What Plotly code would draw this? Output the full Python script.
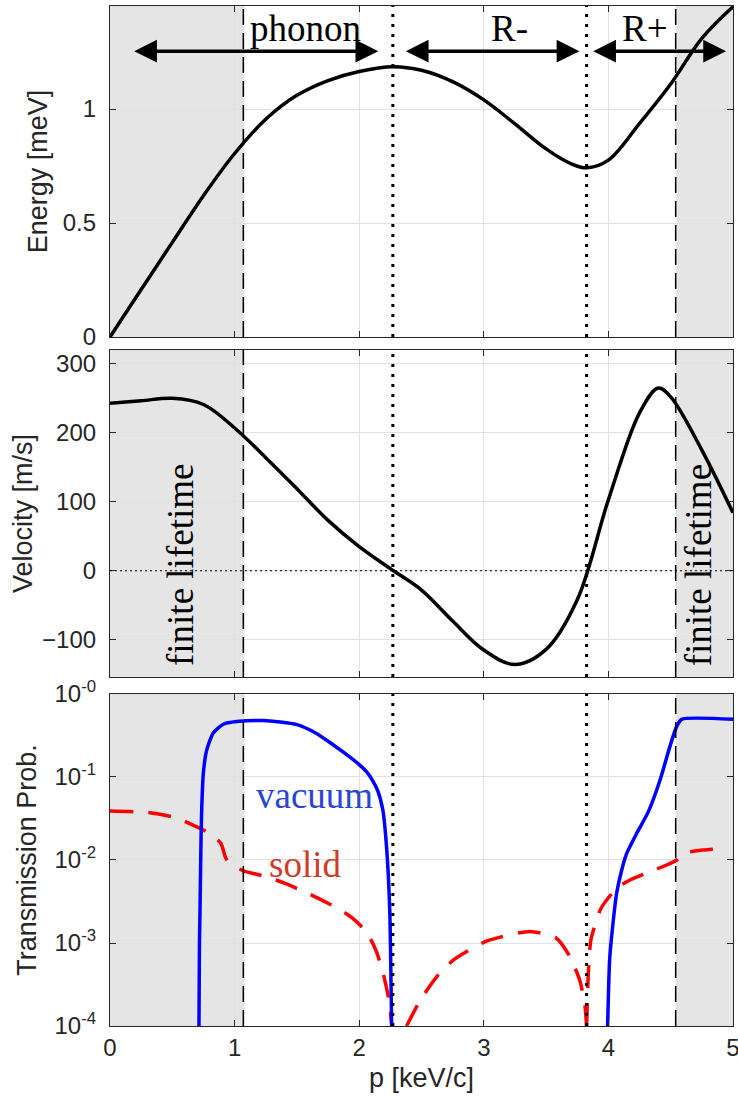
import plotly.graph_objects as go

# ---------------- data ----------------
energy_p = [0, 0.25, 0.5, 0.75, 1.0, 1.25, 1.5, 1.75, 2.0, 2.27, 2.5, 2.75, 3.0, 3.25,
            3.5, 3.7, 3.825, 4.0, 4.25, 4.5, 4.75, 5.0]
energy_E = [0, 0.208, 0.415, 0.62, 0.805, 0.955, 1.06, 1.125, 1.165, 1.186, 1.17, 1.12,
            1.04, 0.935, 0.825, 0.76, 0.742, 0.776, 0.937, 1.11, 1.31, 1.449]

vel_p = [0, 0.25, 0.5, 0.75, 1.0, 1.25, 1.5, 1.75, 2.0, 2.25, 2.5, 2.75, 3.0, 3.25,
         3.5, 3.75, 4.0, 4.25, 4.4, 4.5, 4.75, 5.0]
vel_v = [243, 246.5, 250, 241, 207, 164, 119, 73, 35, 3, -28, -73, -115, -136,
         -114, -42, 103, 229, 265, 252, 175, 84]

vac_p1 = [0.714, 0.718, 0.722, 0.728, 0.735, 0.749, 0.776, 0.829, 0.91, 1.017, 1.23,
          1.5, 1.65, 1.79, 1.9, 2.0, 2.06, 2.11, 2.15, 2.19, 2.22, 2.245, 2.26]
vac_T1 = [1e-4, 1e-3, 0.00229, 0.01, 0.0363, 0.111, 0.211, 0.339, 0.432, 0.465, 0.479,
          0.427, 0.339, 0.245, 0.186, 0.141, 0.115, 0.0891, 0.0676, 0.0398, 0.0141,
          0.00251, 1e-4]
vac_p2 = [3.994, 4.01, 4.04, 4.066, 4.107, 4.147, 4.227, 4.32, 4.414, 4.494, 4.548,
          4.588, 5.0]
vac_T2 = [1e-4, 6.3e-4, 0.00191, 0.00398, 0.00759, 0.012, 0.0209, 0.038, 0.0912,
          0.234, 0.407, 0.495, 0.495]

sol_p1 = [0, 0.32, 0.5, 0.64, 0.8, 0.89, 0.93, 0.97, 1.07, 1.25, 1.4, 1.6, 1.8, 1.9,
          1.97, 2.04, 2.09, 2.14, 2.19, 2.24, 2.262]
sol_T1 = [0.0389, 0.0372, 0.0331, 0.0275, 0.0209, 0.0158, 0.0105, 0.0089, 0.00741,
          0.00631, 0.00525, 0.00389, 0.00275, 0.00224, 0.00186, 0.00145, 0.00112,
          0.000776, 0.000447, 0.0002, 1e-4]
sol_p2 = [2.38, 2.49, 2.62, 2.76, 3.02, 3.37, 3.58, 3.69, 3.77, 3.81, 3.825]
sol_T2 = [1e-4, 2.04e-4, 3.89e-4, 6.3e-4, 0.00105, 0.00138, 0.00115, 6.9e-4, 3.55e-4,
          1.86e-4, 1e-4]
sol_p3 = [3.825, 3.84, 3.86, 3.94, 4.066, 4.173, 4.334, 4.468, 4.548, 4.6, 4.76, 4.94]
sol_T3 = [1e-4, 4.68e-4, 0.0011, 0.0026, 0.00457, 0.00575, 0.00724, 0.0087, 0.01,
          0.012, 0.0132, 0.0138]

x_ticks = [0, 1, 2, 3, 4, 5]
e_ticks = [0, 0.5, 1]
v_ticks = [-100, 0, 100, 200, 300]
t_ticks = [1e-4, 1e-3, 1e-2, 1e-1, 1]
t_ticktext = ["10<sup>-4</sup>", "10<sup>-3</sup>", "10<sup>-2</sup>",
              "10<sup>-1</sup>", "10<sup>-0</sup>"]

# region boundaries (keV/c)
lifetime_lo = 1.07
lifetime_hi = 4.54
maxon_p = 2.27
roton_p = 3.825

# ---------------- styling ----------------
SANS = "Liberation Sans, Arial, Helvetica, sans-serif"
SERIF = "Liberation Serif, Times New Roman, serif"
AX = "#262626"
GRID = "#e1e1e1"
SHADE = "#e5e5e5"

fig = go.Figure()

fig.add_trace(go.Scatter(x=energy_p, y=energy_E, mode="lines", xaxis="x", yaxis="y",
                         line=dict(color="black", width=3.5, shape="spline", smoothing=1.0),
                         showlegend=False))
fig.add_trace(go.Scatter(x=vel_p, y=vel_v, mode="lines", xaxis="x2", yaxis="y2",
                         line=dict(color="black", width=3.5, shape="spline", smoothing=1.0),
                         showlegend=False))
for px_, py_ in [(sol_p1, sol_T1), (sol_p2, sol_T2), (sol_p3, sol_T3)]:
    fig.add_trace(go.Scatter(x=px_, y=py_, mode="lines", xaxis="x3", yaxis="y3",
                             line=dict(color="#ff0000", width=3.5, dash="23px,15px",
                                       shape="spline", smoothing=0.6),
                             showlegend=False))
for px_, py_ in [(vac_p1, vac_T1), (vac_p2, vac_T2)]:
    fig.add_trace(go.Scatter(x=px_, y=py_, mode="lines", xaxis="x3", yaxis="y3",
                             line=dict(color="#0000ff", width=3.5, shape="spline", smoothing=0.6),
                             showlegend=False))

shapes = []
for xr, yr in [("x", "y domain"), ("x2", "y2 domain"), ("x3", "y3 domain")]:
    shapes.append(dict(type="rect", xref=xr, yref=yr, x0=0, x1=lifetime_lo + 0.01, y0=0, y1=1,
                       fillcolor=SHADE, line=dict(width=0), layer="below"))
    shapes.append(dict(type="rect", xref=xr, yref=yr, x0=lifetime_hi, x1=5, y0=0, y1=1,
                       fillcolor=SHADE, line=dict(width=0), layer="below"))
    for xv in (lifetime_lo, lifetime_hi):
        shapes.append(dict(type="line", xref=xr, yref=yr, x0=xv, x1=xv, y0=0, y1=1,
                           line=dict(color="black", width=1.5, dash="16px,8px"), layer="above"))
    for xv in (maxon_p, roton_p):
        shapes.append(dict(type="line", xref=xr, yref=yr, x0=xv, x1=xv, y0=0, y1=1,
                           line=dict(color="black", width=3, dash="3px,7px"), layer="above"))
shapes.append(dict(type="line", xref="x2 domain", yref="y2", x0=0, x1=1, y0=0, y1=0,
                   line=dict(color="black", width=1, dash="2px,3px"), layer="above"))

annotations = []
arrow_y = 1.254
for a, b in [(0.182, 2.153), (2.362, 3.767), (3.866, 4.944)]:
    annotations.append(dict(x=b, y=arrow_y, ax=a, ay=arrow_y, xref="x", yref="y",
                            axref="x", ayref="y", text="", showarrow=True,
                            arrowhead=2, startarrowhead=2, arrowside="end+start",
                            arrowwidth=3.5, arrowsize=1.3, startarrowsize=1.3,
                            arrowcolor="black"))
for txt, xv in [("phonon", 1.565), ("R-", 3.21), ("R+", 4.29)]:
    annotations.append(dict(x=xv, y=1.355, xref="x", yref="y", text=txt, showarrow=False,
                            font=dict(family=SERIF, size=37, color="black"),
                            xanchor="center", yanchor="middle"))
for xv in (0.56, 4.72):
    annotations.append(dict(x=xv, y=8, xref="x2", yref="y2", text="finite lifetime",
                            showarrow=False, textangle=-90,
                            font=dict(family=SERIF, size=37, color="black"),
                            xanchor="center", yanchor="middle"))
annotations.append(dict(x=1.645, y=-1.224, xref="x3", yref="y3", text="vacuum",
                        showarrow=False, font=dict(family=SERIF, size=37, color="#2a45d6"),
                        xanchor="center", yanchor="middle"))
annotations.append(dict(x=1.565, y=-2.05, xref="x3", yref="y3", text="solid",
                        showarrow=False, font=dict(family=SERIF, size=37, color="#d03c2c"),
                        xanchor="center", yanchor="middle"))

common_x = dict(range=[0, 5], tickvals=x_ticks, showgrid=True, gridcolor=GRID, gridwidth=1,
                zeroline=False, showline=True, linecolor=AX, linewidth=1.2, mirror="ticks",
                ticks="inside", ticklen=6, tickcolor=AX, tickwidth=1.2,
                tickfont=dict(family=SANS, size=24, color=AX))
common_y = dict(showgrid=True, gridcolor=GRID, gridwidth=1, zeroline=False, showline=True,
                linecolor=AX, linewidth=1.2, mirror="ticks", ticks="inside", ticklen=6,
                tickcolor=AX, tickwidth=1.2, tickfont=dict(family=SANS, size=24, color=AX),
                ticklabelstandoff=8)
title_font = dict(family=SANS, size=27, color=AX)

fig.update_layout(
    width=738, height=1097,
    margin=dict(l=110, r=5, t=6, b=71, autoexpand=False),
    paper_bgcolor="white", plot_bgcolor="white",
    showlegend=False,
    xaxis=dict(common_x, anchor="y", showticklabels=False),
    xaxis2=dict(common_x, anchor="y2", showticklabels=False, matches="x"),
    xaxis3=dict(common_x, anchor="y3", showticklabels=True, matches="x",
                ticklabeloverflow="allow",
                title=dict(text="p [keV/c]", font=title_font, standoff=8)),
    yaxis=dict(common_y, domain=[0.6755, 1.0], range=[0, 1.452], tickvals=e_ticks,
               anchor="x", title=dict(text="Energy [meV]", font=title_font, standoff=7)),
    yaxis2=dict(common_y, domain=[0.3422, 0.6627], range=[-154, 320], tickvals=v_ticks,
                anchor="x2", title=dict(text="Velocity [m/s]", font=title_font, standoff=1)),
    yaxis3=dict(common_y, domain=[0.0, 0.3255], type="log", range=[-4, 0],
                tickvals=t_ticks, ticktext=t_ticktext, anchor="x3",
                title=dict(text="Transmission Prob.", font=title_font, standoff=10)),
    shapes=shapes,
    annotations=annotations,
)

fig.write_html("out.html")
